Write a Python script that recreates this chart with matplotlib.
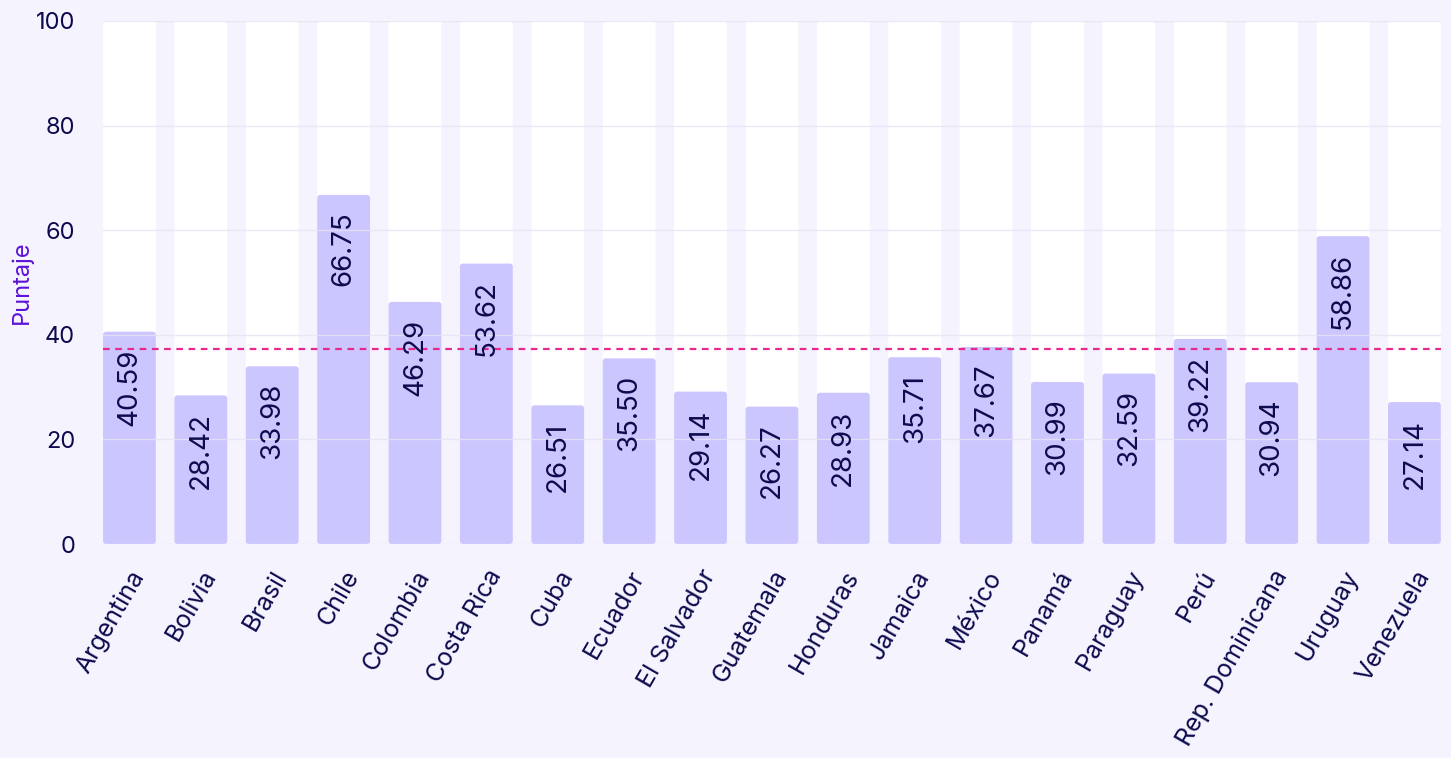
import matplotlib.pyplot as plt
from matplotlib.patches import FancyBboxPatch

# Datos
paises = ["Argentina", "Bolivia", "Brasil", "Chile", "Colombia", "Costa Rica",
          "Cuba", "Ecuador", "El Salvador", "Guatemala", "Honduras", "Jamaica",
          "México", "Panamá", "Paraguay", "Perú", "Rep. Dominicana", "Uruguay",
          "Venezuela"]
puntajes = [40.59, 28.42, 33.98, 66.75, 46.29, 53.62, 26.51, 35.50, 29.14,
            26.27, 28.93, 35.71, 37.67, 30.99, 32.59, 39.22, 30.94, 58.86, 27.14]
maximo = 100
promedio = sum(puntajes) / len(puntajes)

fondo = "#F5F3FE"
morado = "#CCC6FF"
texto = "#0D0B4D"

plt.rcParams['font.family'] = ['Inter', 'DejaVu Sans']

fig = plt.figure(figsize=(14.51, 7.58), dpi=100, facecolor=fondo)
ax = fig.add_axes([0.071, 0.2823, 0.922, 0.690])
ax.set_facecolor(fondo)

x = list(range(len(paises)))
ancho = 0.74

# Barras con esquinas redondeadas (radio ~3 px)
radio_x = 0.042
aspecto = 13.6


def barra(xc, alto, color, z):
    p = FancyBboxPatch((xc - ancho / 2, 0), ancho, alto,
                       boxstyle=f"round,pad=0,rounding_size={radio_x}",
                       mutation_aspect=aspecto, facecolor=color,
                       edgecolor="none", zorder=z)
    ax.add_patch(p)


for xi, v in zip(x, puntajes):
    barra(xi, maximo, "white", 1)
    barra(xi, v, morado, 2)

ax.yaxis.grid(True, color="#E6E4F2", linewidth=1, zorder=3, alpha=0.8)
ax.set_axisbelow(False)

ax.axhline(promedio, color="#E8288C", linestyle=(0, (3, 2.5)), linewidth=1.6, zorder=4)

# Etiquetas de valor dentro de las barras
for xi, v in zip(x, puntajes):
    ax.annotate(f"{v:.2f}", (xi, v), xytext=(0, -12), textcoords="offset points",
                rotation=90, ha="center", va="top", fontsize=20, color=texto, zorder=5)

ax.set_xlim(-ancho / 2, len(x) - 1 + ancho / 2)
ax.set_ylim(0, maximo)
ax.set_yticks([0, 20, 40, 60, 80, 100])
ax.set_xticks(x)
ax.set_xticklabels(paises, rotation=60, ha="right", rotation_mode="anchor",
                   fontsize=18, color=texto)
ax.tick_params(axis="y", labelsize=17, labelcolor=texto, length=0, pad=20)
ax.tick_params(axis="x", length=0, pad=16)
for s in ax.spines.values():
    s.set_visible(False)

ax.set_ylabel("Puntaje", color="#5B12D6", fontsize=17, labelpad=2)

fig.savefig("out.png", dpi=100, facecolor=fondo)
